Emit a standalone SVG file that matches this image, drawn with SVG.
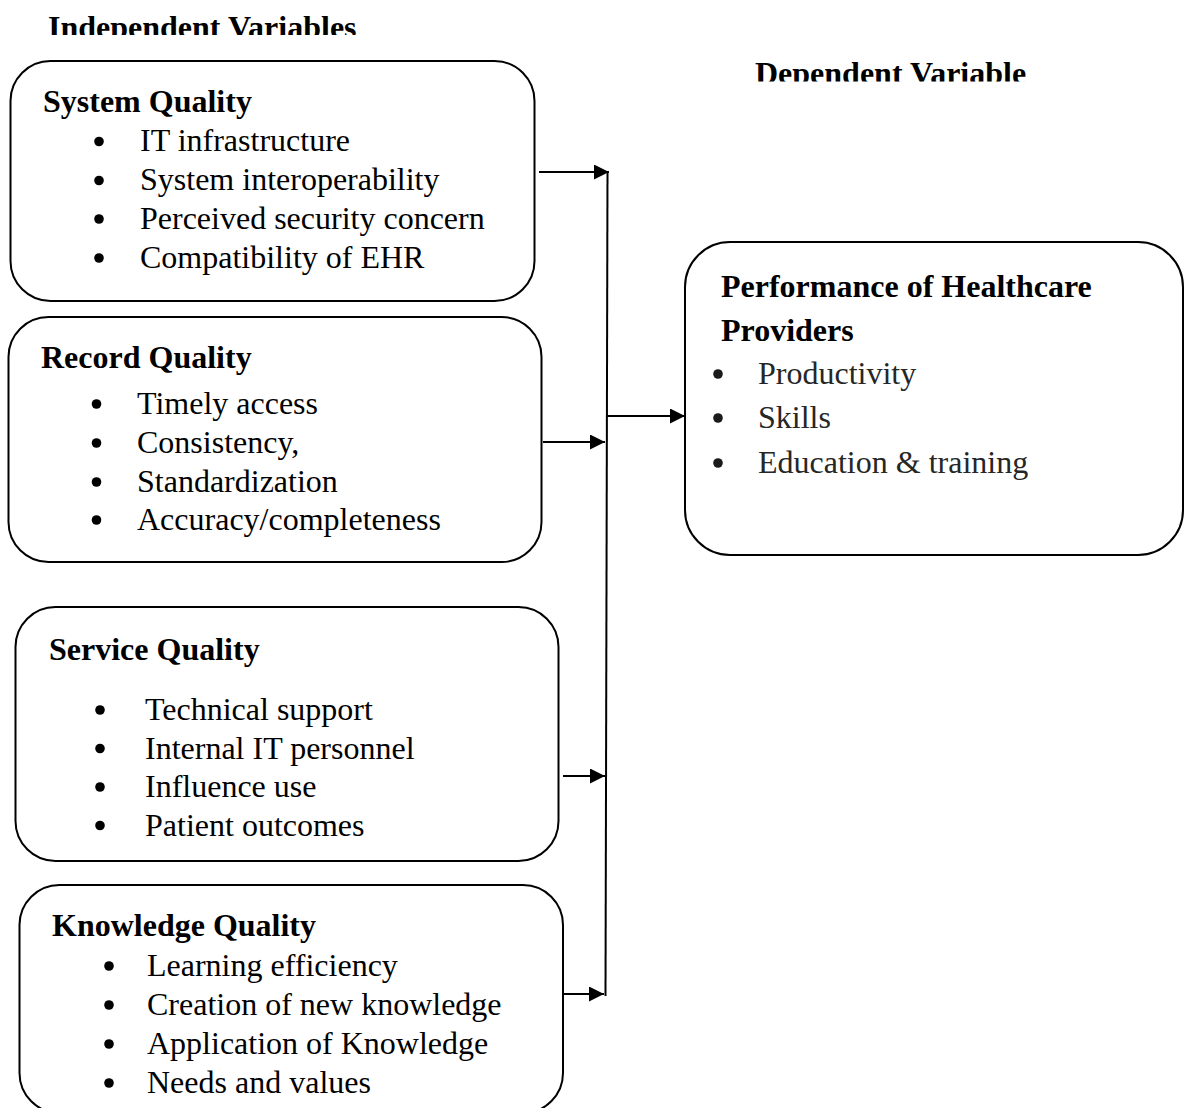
<svg xmlns="http://www.w3.org/2000/svg" width="1184" height="1108" viewBox="0 0 1184 1108">
<style>
.box{fill:#fff;stroke:#000;stroke-width:2}
.t{font-family:"Liberation Serif","Times New Roman",serif;font-size:32px;fill:#000}
.b{font-weight:bold}
.g{fill:#262626}
.dot{fill:#000}
.dotg{fill:#1a1a1a}
.con{stroke:#000;stroke-width:2;fill:none}
</style>
<defs>
<marker id="ah" markerUnits="userSpaceOnUse" markerWidth="16" markerHeight="16" refX="15" refY="7.5" orient="auto">
<path d="M0,0 L15,7.5 L0,15 z" fill="#000"/>
</marker>
<clipPath id="c1"><rect x="0" y="0" width="600" height="35"/></clipPath>
<clipPath id="c2"><rect x="700" y="40" width="400" height="41.5"/></clipPath>
</defs>
<rect width="1184" height="1108" fill="#fff"/>
<g id="headers">
<text class="t b" x="48" y="38" clip-path="url(#c1)">Independent Variables</text>
<text class="t b" x="755" y="83.5" clip-path="url(#c2)">Dependent Variable</text>
</g>
<g id="connectors">
<line class="con" x1="539" y1="172" x2="609" y2="172" marker-end="url(#ah)"/>
<line class="con" x1="607.5" y1="172" x2="605.5" y2="996"/>
<line class="con" x1="543" y1="442" x2="605" y2="442" marker-end="url(#ah)"/>
<line class="con" x1="563" y1="776" x2="605" y2="776" marker-end="url(#ah)"/>
<line class="con" x1="558" y1="994" x2="604" y2="994" marker-end="url(#ah)"/>
<line class="con" x1="607" y1="416" x2="685" y2="416" marker-end="url(#ah)"/>
</g>
<g id="system-quality">
<rect class="box" x="10.5" y="61" width="524" height="240" rx="40"/>
<text class="t b" x="43" y="112">System Quality</text>
<circle class="dot" cx="99" cy="141.5" r="4.8"/><text class="t" x="140" y="151">IT infrastructure</text>
<circle class="dot" cx="99" cy="180.5" r="4.8"/><text class="t" x="140" y="190">System interoperability</text>
<circle class="dot" cx="99" cy="219" r="4.8"/><text class="t" x="140" y="229">Perceived security concern</text>
<circle class="dot" cx="99" cy="258" r="4.8"/><text class="t" x="140" y="268">Compatibility of EHR</text>
</g>
<g id="record-quality">
<rect class="box" x="8.5" y="317" width="533" height="245" rx="40"/>
<text class="t b" x="41" y="368">Record Quality</text>
<circle class="dot" cx="96.5" cy="404" r="4.8"/><text class="t" x="137" y="414">Timely access</text>
<circle class="dot" cx="96.5" cy="443" r="4.8"/><text class="t" x="137" y="453">Consistency,</text>
<circle class="dot" cx="96.5" cy="482" r="4.8"/><text class="t" x="137" y="492">Standardization</text>
<circle class="dot" cx="96.5" cy="520" r="4.8"/><text class="t" x="137" y="530">Accuracy/completeness</text>
</g>
<g id="service-quality">
<rect class="box" x="15.5" y="607" width="543" height="254" rx="40"/>
<text class="t b" x="49" y="660">Service Quality</text>
<circle class="dot" cx="100" cy="710" r="4.8"/><text class="t" x="145" y="720">Technical support</text>
<circle class="dot" cx="100" cy="748.5" r="4.8"/><text class="t" x="145" y="758.5">Internal IT personnel</text>
<circle class="dot" cx="100" cy="787" r="4.8"/><text class="t" x="145" y="797">Influence use</text>
<circle class="dot" cx="100" cy="825.5" r="4.8"/><text class="t" x="145" y="835.5">Patient outcomes</text>
</g>
<g id="knowledge-quality">
<rect class="box" x="19.5" y="885" width="543.5" height="228" rx="40"/>
<text class="t b" x="52" y="936">Knowledge Quality</text>
<circle class="dot" cx="109" cy="966" r="4.8"/><text class="t" x="147" y="976">Learning efficiency</text>
<circle class="dot" cx="109" cy="1005" r="4.8"/><text class="t" x="147" y="1015">Creation of new knowledge</text>
<circle class="dot" cx="109" cy="1044" r="4.8"/><text class="t" x="147" y="1054">Application of Knowledge</text>
<circle class="dot" cx="109" cy="1083" r="4.8"/><text class="t" x="147" y="1093">Needs and values</text>
</g>
<g id="performance">
<rect class="box" x="685" y="242" width="498" height="313" rx="45"/>
<text class="t b" x="721" y="297">Performance of Healthcare</text>
<text class="t b" x="721" y="341">Providers</text>
<circle class="dotg" cx="718" cy="374" r="4.8"/><text class="t g" x="758" y="384">Productivity</text>
<circle class="dotg" cx="718" cy="418" r="4.8"/><text class="t g" x="758" y="428">Skills</text>
<circle class="dotg" cx="718" cy="463" r="4.8"/><text class="t g" x="758" y="473">Education &amp; training</text>
</g>
</svg>
